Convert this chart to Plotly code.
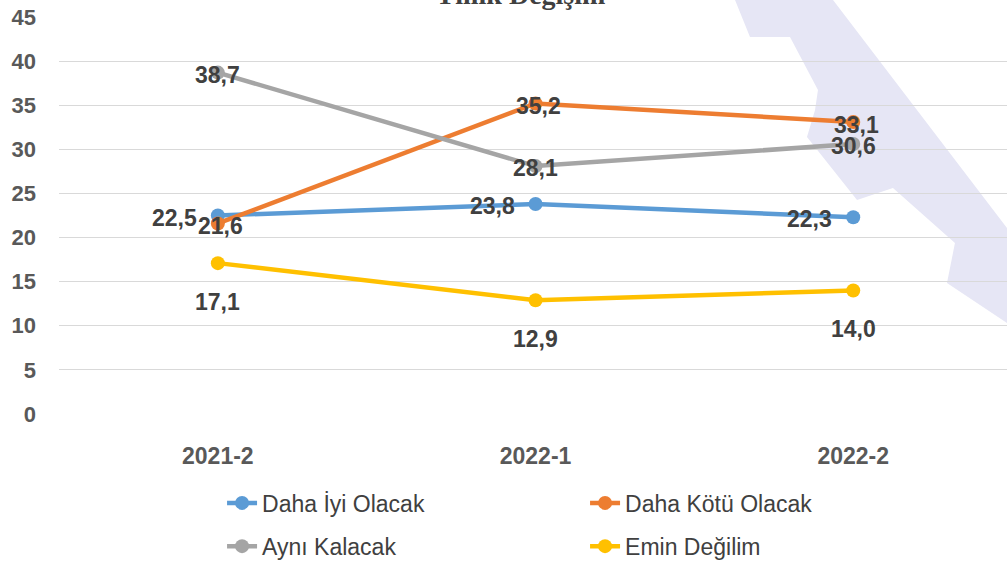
import plotly.graph_objects as go

categories = ["2021-2", "2022-1", "2022-2"]
series_names = ["Daha İyi Olacak", "Daha Kötü Olacak", "Aynı Kalacak", "Emin Değilim"]
daha_iyi = [22.5, 23.8, 22.3]
daha_kotu = [21.6, 35.2, 33.1]
ayni = [38.7, 28.1, 30.6]
emin_degil = [17.1, 12.9, 14.0]
y_ticks = [0, 5, 10, 15, 20, 25, 30, 35, 40, 45]
title_text = "Yıllık Değişim"

colors = ["#5B9BD5", "#ED7D31", "#A5A5A5", "#FFC000"]
values = [daha_iyi, daha_kotu, ayni, emin_degil]
legends = ["legend", "legend", "legend2", "legend2"]
# label placement per series: (xanchor, xshift, yshift)
label_pos = [("right", -19, -2), ("center", 3, -3), ("center", 0, -2), ("center", 0, -39)]

FONT = "Liberation Sans"
x_idx = list(range(len(categories)))

fig = go.Figure()
for name, vals, col, lg in zip(series_names, values, colors, legends):
    fig.add_trace(go.Scatter(
        x=x_idx, y=vals, name=name, mode="lines+markers",
        line=dict(color=col, width=4.5),
        marker=dict(color=col, size=14),
        legend=lg,
    ))

annotations = []
for vals, (xa, xs, ys) in zip(values, label_pos):
    for xi, v in zip(x_idx, vals):
        annotations.append(dict(
            x=xi, y=v, xref="x", yref="y",
            text=f"{v:.1f}".replace(".", ","),
            showarrow=False, xanchor=xa, yanchor="middle",
            xshift=xs, yshift=ys,
            font=dict(family=FONT, size=23, color="#404040", weight="bold"),
        ))

annotations.append(dict(
    x=0.486, y=1, xref="paper", yref="paper", text=f"<b>{title_text}</b>",
    showarrow=False, xanchor="center", yanchor="bottom", yshift=5,
    font=dict(family="Liberation Serif", size=28, color="#404040"),
))

# background watermark (decorative), pixel outline converted to paper coords
L, R, T, B = 59, 1007, 17, 414
def px(xp, yp):
    return (xp - L) / (R - L), (B - yp) / (B - T)
outline = [(735, 0), (750, 37), (790, 37), (818, 90), (815, 110), (807, 137),
           (857, 200), (893, 188), (955, 243), (947, 283), (1010, 325),
           (1010, 232), (833, 0), (833, -5), (735, -5)]
pts = [px(a, b) for a, b in outline]
path = "M " + " L ".join(f"{a:.4f},{b:.4f}" for a, b in pts) + " Z"

fig.update_layout(
    width=1007, height=561,
    margin=dict(l=L, r=0, t=T, b=561 - B, autoexpand=False),
    paper_bgcolor="white", plot_bgcolor="rgba(0,0,0,0)",
    showlegend=True,
    annotations=annotations,
    shapes=[dict(type="path", path=path, xref="paper", yref="paper",
                 fillcolor="#E6E6F5", line=dict(width=0), layer="below")],
    legend=dict(orientation="h", x=0.172, y=-0.224, xanchor="left", yanchor="middle",
                entrywidth=318, entrywidthmode="pixels",
                font=dict(family=FONT, size=23, color="#404040"),
                bgcolor="rgba(0,0,0,0)", itemclick=False),
    legend2=dict(orientation="h", x=0.172, y=-0.333, xanchor="left", yanchor="middle",
                 entrywidth=318, entrywidthmode="pixels",
                 font=dict(family=FONT, size=23, color="#404040"),
                 bgcolor="rgba(0,0,0,0)", itemclick=False),
)
fig.update_xaxes(
    tickmode="array", tickvals=x_idx, ticktext=categories,
    range=[-0.5, 2.484], showgrid=False, zeroline=False, showline=False,
    ticks="", ticklabelstandoff=26,
    tickfont=dict(family=FONT, size=23, color="#595959", weight="bold"),
)
fig.update_yaxes(
    range=[0, 45], tickmode="array", tickvals=y_ticks,
    showgrid=True, gridcolor="#D9D9D9", gridwidth=1.3,
    zeroline=False, showline=False, ticks="", ticklabelstandoff=22,
    tickfont=dict(family=FONT, size=22, color="#595959", weight="bold"),
)

fig.write_html(
    "out.html",
    config={"displayModeBar": False},
    post_script="document.body.style.margin='0';document.body.style.overflow='hidden';",
)
